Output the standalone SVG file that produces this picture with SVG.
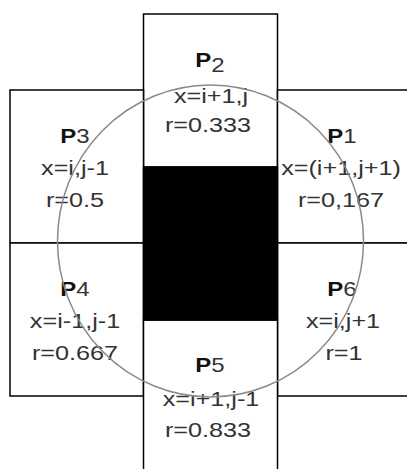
<svg xmlns="http://www.w3.org/2000/svg" width="407" height="469" viewBox="0 0 407 469">
<style>
.box{fill:#fff;stroke:#000;stroke-width:1.5}
.blk{fill:#000;stroke:#000;stroke-width:1.5}
.arc{fill:none;stroke:#8a8a8a;stroke-width:1.5}
text{font-family:"Liberation Sans",Arial,sans-serif;font-size:21px;fill:#333;text-anchor:middle}
.p{font-weight:bold;fill:#111;font-size:20px}
.n{font-weight:normal;fill:#333;font-size:20px}
</style>
<rect width="407" height="469" fill="#fff"/>
<g id="P2">
<rect class="box" x="143.5" y="14" width="134" height="153"/>
<text transform="translate(210 67) scale(1.2 1)"><tspan class="p">P</tspan><tspan class="n" dy="5">2</tspan></text>
<text transform="translate(211 103) scale(1.2 1)">x=i+1,j</text>
<text transform="translate(208 132) scale(1.2 1)">r=0.333</text>
</g>
<g id="P3">
<rect class="box" x="10" y="90" width="133.5" height="153"/>
<text transform="translate(75 143) scale(1.2 1)"><tspan class="p">P</tspan><tspan class="n">3</tspan></text>
<text transform="translate(75 175) scale(1.2 1)">x=i,j-1</text>
<text transform="translate(75 207) scale(1.2 1)">r=0.5</text>
</g>
<g id="P1">
<rect class="box" x="277.5" y="90" width="140" height="153"/>
<text transform="translate(342 143) scale(1.2 1)"><tspan class="p">P</tspan><tspan class="n">1</tspan></text>
<text transform="translate(341 175) scale(1.2 1)">x=(i+1,j+1)</text>
<text transform="translate(341 207) scale(1.2 1)">r=0,167</text>
</g>
<g id="P4">
<rect class="box" x="10" y="243" width="133.5" height="153"/>
<text transform="translate(75 296) scale(1.2 1)"><tspan class="p">P</tspan><tspan class="n">4</tspan></text>
<text transform="translate(75 328) scale(1.2 1)">x=i-1,j-1</text>
<text transform="translate(75 360) scale(1.2 1)">r=0.667</text>
</g>
<g id="P6">
<rect class="box" x="277.5" y="243" width="140" height="153"/>
<text transform="translate(342 296) scale(1.2 1)"><tspan class="p">P</tspan><tspan class="n">6</tspan></text>
<text transform="translate(343 328) scale(1.2 1)">x=i,j+1</text>
<text transform="translate(344 360) scale(1.2 1)">r=1</text>
</g>
<g id="P5">
<rect class="box" x="143.5" y="320" width="134" height="160"/>
<text transform="translate(210 372) scale(1.2 1)"><tspan class="p">P</tspan><tspan class="n">5</tspan></text>
<text transform="translate(211 406) scale(1.2 1)">x=i+1,j-1</text>
<text transform="translate(208 437) scale(1.2 1)">r=0.833</text>
</g>
<g id="center">
<rect class="blk" x="143.5" y="167" width="134" height="153"/>
</g>
<g id="connectors">
<ellipse class="arc" cx="210.5" cy="241" rx="153" ry="156"/>
</g>
</svg>
